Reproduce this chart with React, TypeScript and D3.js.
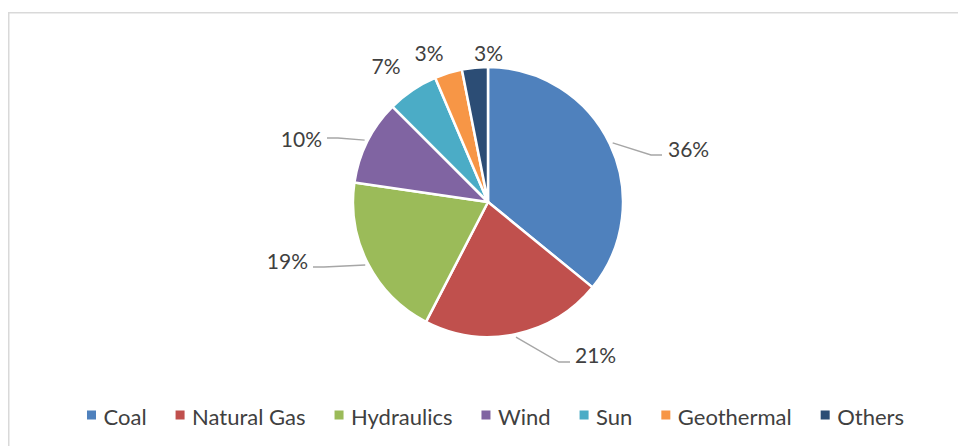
import { useEffect, useRef } from "react";
import * as d3 from "d3";

const categories = ["Coal", "Natural Gas", "Hydraulics", "Wind", "Sun", "Geothermal", "Others"];
const shares = [35.9, 21.7, 19.7, 10.2, 6.1, 3.3, 3.1];
const shareLabels = ["36%", "21%", "19%", "10%", "7%", "3%", "3%"];
const colors = ["#4F81BD", "#C0504D", "#9BBB59", "#8064A2", "#4BACC6", "#F79646", "#2C4D75"];

// where each data label sits, relative to the pie centre (line = end of leader, null = no leader)
const labelLayout: { line: [number, number] | null; text: [number, number]; anchor: string }[] = [
  { line: [174, -47], text: [180, -45], anchor: "start" },
  { line: [82, 160], text: [87, 161], anchor: "start" },
  { line: [-175, 65], text: [-180, 67], anchor: "end" },
  { line: [-161, -64], text: [-166, -55], anchor: "end" },
  { line: null, text: [-102, -128], anchor: "middle" },
  { line: null, text: [-59, -141], anchor: "middle" },
  { line: null, text: [0.5, -141], anchor: "middle" },
];

const width = 958;
const height = 446;
const cx = 488;
const cy = 202;
const radius = 135;
const font = "Lato, 'Open Sans', sans-serif";
const textColor = "#404040";

const App = () => {
  const ref = useRef<SVGSVGElement>(null);

  useEffect(() => {
    const svg = d3.select(ref.current);
    svg.selectAll("*").remove();

    svg
      .append("rect")
      .attr("x", 8.75)
      .attr("y", 12.75)
      .attr("width", width + 20)
      .attr("height", height + 20)
      .attr("fill", "#fff")
      .attr("stroke", "#D9D9D9")
      .attr("stroke-width", 1.5);

    const data = categories.map((name, i) => ({ name, value: shares[i], label: shareLabels[i], i }));
    const pie = d3
      .pie<{ name: string; value: number; label: string; i: number }>()
      .sort(null)
      .value((d) => d.value);
    const arcs = pie(data);
    const arc = d3.arc<d3.PieArcDatum<any>>().innerRadius(0).outerRadius(radius);

    const g = svg.append("g").attr("transform", `translate(${cx},${cy})`);

    g.selectAll("path.slice")
      .data(arcs)
      .join("path")
      .attr("class", "slice")
      .attr("d", arc as any)
      .attr("fill", (d) => colors[d.data.i])
      .attr("stroke", "#fff")
      .attr("stroke-width", 2.5)
      .attr("stroke-linejoin", "round");

    // leader lines
    arcs.forEach((a) => {
      const lay = labelLayout[a.data.i];
      if (!lay.line) return;
      const mid = (a.startAngle + a.endAngle) / 2;
      const r0 = radius + 3;
      const sx = Math.sin(mid) * r0;
      const sy = -Math.cos(mid) * r0;
      const [lx, ly] = lay.line;
      const ex = lx - (lay.anchor === "start" ? 11 : -11);
      g.append("path")
        .attr("d", d3.line()([[sx, sy], [ex, ly], [lx, ly]]))
        .attr("fill", "none")
        .attr("stroke", "#A6A6A6")
        .attr("stroke-width", 1.4);
    });

    g.selectAll("text.lbl")
      .data(arcs)
      .join("text")
      .attr("class", "lbl")
      .attr("x", (d) => labelLayout[d.data.i].text[0])
      .attr("y", (d) => labelLayout[d.data.i].text[1])
      .attr("text-anchor", (d) => labelLayout[d.data.i].anchor)
      .attr("font-family", font)
      .attr("font-size", 21)
      .attr("fill", textColor)
      .text((d) => d.data.label);

    // legend, centred under the chart
    const legend = svg.append("g");
    const items = legend
      .selectAll("g")
      .data(categories)
      .join("g");
    items
      .append("rect")
      .attr("width", 9)
      .attr("height", 9)
      .attr("y", -14)
      .attr("fill", (_, i) => colors[i]);
    const labels = items
      .append("text")
      .attr("x", 16.5)
      .attr("font-family", font)
      .attr("font-size", 22)
      .attr("fill", textColor)
      .text((d) => d);

    const widths: number[] = [];
    labels.each(function () {
      widths.push((this as SVGTextElement).getComputedTextLength());
    });
    const gap = 29;
    const itemW = widths.map((w) => 16.5 + w);
    const total = d3.sum(itemW) + gap * (itemW.length - 1);
    let x = 495.5 - total / 2;
    items.attr("transform", (_, i) => {
      const t = `translate(${x},${424.5})`;
      x += itemW[i] + gap;
      return t;
    });
  }, []);

  return (
    <svg
      ref={ref}
      width={width}
      height={height}
      style={{ position: "absolute", left: 0, top: 0, background: "#fff" }}
    />
  );
};

export default App;
